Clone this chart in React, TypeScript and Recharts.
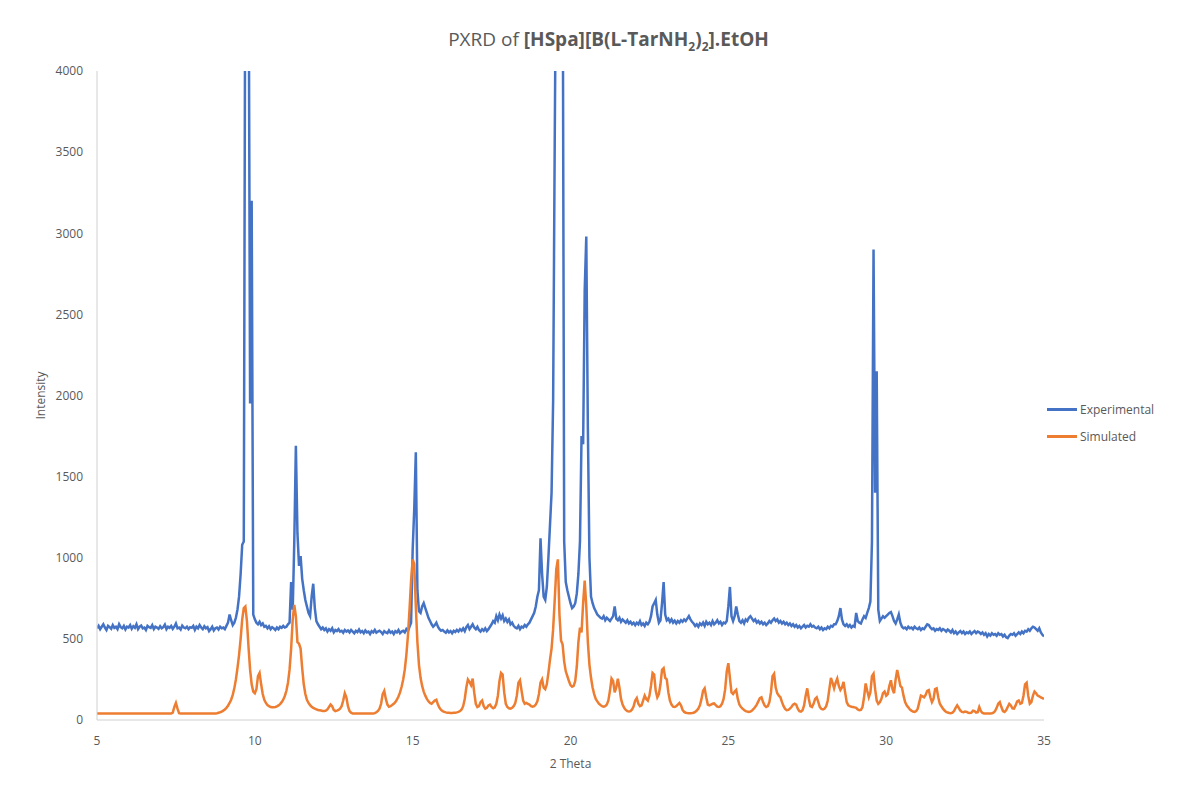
import { Line, LineChart, XAxis, YAxis } from "recharts";

// scan grid of the diffractogram (2θ, degrees)
const SCAN_START = 5;
const SCAN_STEP = 0.05;

// one row per degree, 20 points each (5.00 ... 34.95), then 35.00
const experimental = [
  565, 580, 560, 575, 590, 570, 555, 580, 572, 562, 585, 568, 575, 560, 590, 572, 565, 580, 558, 575,
  570, 585, 562, 578, 568, 590, 560, 575, 582, 565, 570, 555, 580, 572, 568, 585, 560, 575, 570, 562,
  578, 565, 572, 588, 560, 575, 568, 580, 562, 575, 595, 565, 570, 558, 582, 570, 565, 575, 560, 572,
  568, 580, 555, 575, 565, 585, 570, 560, 578, 565, 572, 548, 560, 575, 552, 565, 570, 558, 575, 565,
  570, 560, 580, 600, 650, 615, 585, 600, 630, 680, 760, 900, 1080, 1100, 5000, 5000, 5000, 1950, 3200, 650,
  620, 600, 590, 605, 585, 595, 575, 580, 565, 578, 560, 572, 565, 555, 570, 560, 575, 568, 580, 570,
  575, 590, 600, 850, 680, 1100, 1690, 1150, 950, 1010, 870, 800, 740, 700, 660, 640, 760, 840, 690, 610,
  590, 575, 560, 570, 555, 565, 545, 560, 550, 565, 540, 555, 548, 560, 545, 550, 538, 555, 545, 552,
  540, 555, 545, 535, 550, 542, 558, 540, 548, 535, 552, 540, 545, 530, 548, 540, 555, 538, 545, 550,
  542, 530, 548, 540, 535, 552, 538, 545, 530, 548, 540, 555, 535, 545, 550, 540, 560, 548, 575, 600,
  1050, 1300, 1650, 800, 670, 660, 700, 720, 690, 660, 630, 610, 590, 575, 585, 600, 575, 560, 550, 555,
  545, 538, 552, 540, 548, 535, 550, 542, 555, 545, 560, 550, 565, 548, 572, 585, 560, 575, 590, 570,
  560, 575, 555, 545, 560, 550, 565, 548, 560, 575, 590, 610, 600, 640, 615, 650, 625, 645, 610, 625,
  605, 620, 590, 600, 580, 570, 565, 580, 560, 575, 570, 585, 575, 590, 600, 620, 640, 660, 700, 760,
  800, 1120, 900, 760, 740, 820, 1000, 1200, 1400, 1970, 3550, 5000, 5000, 5000, 5000, 5000, 1100, 850, 800, 760,
  720, 690, 700, 720, 780, 900, 1100, 1750, 1700, 2650, 2980, 1800, 1000, 760, 720, 690, 670, 650, 640, 630,
  625, 640, 615, 630, 620, 610, 625, 640, 700, 625, 615, 630, 605, 620, 610, 600, 615, 595, 605, 590,
  600, 585, 600, 590, 610, 585, 595, 580, 600, 590, 605, 640, 700, 720, 740, 650, 600, 615, 720, 850,
  650, 615, 625, 605, 620, 600, 612, 595, 610, 600, 615, 605, 620, 610, 625, 640, 620, 605, 595, 580,
  590, 575, 595, 585, 600, 580, 605, 590, 600, 585, 610, 590, 600, 615, 595, 605, 585, 600, 595, 610,
  700, 820, 640, 610, 640, 700, 650, 610, 600, 615, 595, 620, 610, 630, 640, 625, 610, 620, 600, 610,
  595, 605, 590, 600, 585, 595, 610, 600, 615, 625, 610, 620, 600, 610, 595, 605, 590, 600, 585, 595,
  580, 590, 575, 585, 570, 580, 565, 575, 585, 570, 580, 575, 590, 575, 580, 570, 565, 575, 560, 570,
  555, 565, 560, 575, 565, 580, 575, 590, 590, 610, 640, 690, 620, 590, 580, 590, 575, 585, 570, 580,
  575, 660, 610, 600, 595, 620, 640, 630, 660, 690, 730, 1100, 2900, 1400, 2150, 680, 610, 625, 640, 630,
  640, 650, 660, 665, 640, 610, 595, 620, 650, 600, 575, 565, 570, 560, 575, 565, 570, 560, 575, 565,
  560, 570, 555, 565, 560, 575, 590, 585, 570, 560, 565, 550, 560, 555, 565, 550, 560, 555, 545, 558,
  550, 540, 555, 535, 545, 530, 540, 548, 535, 545, 530, 540, 535, 545, 530, 540, 548, 535, 545, 540,
  530, 540, 525, 535, 515, 530, 520, 535, 525, 530, 520, 535, 525, 530, 515, 525, 510, 505, 520, 530,
  525, 535, 520, 530, 540, 530, 545, 535, 550, 545, 560, 550, 565, 575, 570, 560, 550, 565, 540, 525,
  515,
];

const simulated = [
  40, 40, 40, 40, 40, 40, 40, 40, 40, 40, 40, 40, 40, 40, 40, 40, 40, 40, 40, 40,
  40, 40, 40, 40, 40, 40, 40, 40, 40, 40, 40, 40, 40, 40, 40, 40, 40, 40, 40, 40,
  40, 40, 40, 40, 40, 40, 40, 40, 45, 80, 105, 70, 42, 40, 40, 40, 40, 40, 40, 40,
  40, 40, 40, 40, 40, 40, 40, 40, 40, 40, 40, 40, 40, 40, 40, 40, 42, 45, 48, 52,
  58, 65, 75, 88, 105, 125, 155, 195, 250, 320, 400, 500, 620, 690, 700, 610, 450, 310, 220, 175,
  165, 190, 270, 290, 220, 160, 125, 105, 92, 85, 80, 78, 78, 80, 84, 90, 98, 110, 125, 148,
  180, 230, 310, 440, 620, 710, 640, 480, 470, 440, 320, 220, 160, 125, 105, 92, 82, 75, 70, 66,
  62, 60, 58, 56, 55, 58, 65, 80, 95, 85, 62, 55, 58, 62, 70, 85, 120, 165, 140, 85,
  55, 45, 40, 40, 40, 40, 40, 40, 40, 40, 40, 40, 40, 40, 40, 40, 42, 48, 56, 70,
  100, 160, 180, 130, 95, 82, 85, 92, 100, 110, 125, 145, 170, 205, 250, 310, 400, 520, 680, 860,
  990, 960, 700, 480, 340, 260, 210, 175, 150, 130, 115, 105, 100, 110, 120, 125, 95, 75, 62, 55,
  50, 47, 45, 44, 43, 43, 44, 45, 47, 50, 55, 65, 85, 130, 200, 250, 235, 215, 255, 170,
  100, 80, 85, 110, 120, 85, 70, 75, 90, 95, 80, 72, 78, 100, 150, 240, 290, 280, 170, 100,
  80, 72, 70, 75, 85, 105, 150, 230, 245, 180, 120, 100, 105, 100, 95, 85, 82, 85, 95, 115,
  160, 230, 250, 200, 190, 220, 290, 370, 440, 560, 740, 930, 990, 650, 490, 465, 360, 300, 270, 240,
  215, 205, 210, 240, 330, 480, 570, 540, 720, 860, 700, 480, 340, 260, 200, 160, 130, 115, 100, 92,
  85, 82, 85, 95, 120, 180, 255, 240, 170, 200, 255, 200, 130, 95, 75, 62, 55, 52, 55, 65,
  85, 120, 135, 100, 85, 90, 120, 150, 130, 120, 150, 210, 290, 280, 180, 140, 160, 220, 310, 320,
  260, 250, 170, 120, 95, 82, 80, 85, 95, 105, 90, 62, 50, 45, 43, 42, 42, 43, 45, 50,
  58, 70, 90, 130, 180, 195, 140, 95, 90, 95, 100, 102, 92, 82, 80, 85, 100, 130, 190, 300,
  350, 260, 170, 160, 175, 185, 130, 95, 80, 70, 62, 55, 52, 50, 52, 58, 68, 80, 95, 115,
  135, 140, 110, 90, 80, 85, 110, 170, 270, 285, 200, 165, 150, 140, 110, 85, 68, 60, 62, 70,
  80, 95, 100, 95, 70, 55, 52, 60, 90, 150, 195, 130, 85, 80, 100, 130, 140, 110, 80, 68,
  65, 70, 85, 120, 190, 260, 230, 195, 230, 255, 210, 185, 200, 235, 170, 110, 90, 85, 82, 80,
  78, 75, 65, 60, 62, 80, 140, 225, 180, 140, 170, 270, 285, 190, 120, 100, 110, 130, 165, 175,
  150, 160, 210, 245, 190, 165, 250, 308, 260, 210, 200, 150, 110, 90, 78, 65, 58, 52, 50, 55,
  70, 110, 150, 145, 140, 155, 180, 185, 140, 110, 130, 190, 195, 140, 100, 85, 70, 58, 50, 46,
  43, 42, 45, 55, 75, 90, 75, 58, 50, 48, 52, 50, 45, 43, 45, 58, 55, 45, 48, 80,
  55, 43, 40, 40, 40, 40, 40, 42, 45, 55, 75, 100, 110, 80, 55, 50, 60, 80, 100, 90,
  72, 70, 90, 115, 120, 100, 105, 150, 220, 230, 150, 100, 110, 150, 175, 165, 150, 145, 140, 135,
  130,
];

const xTicks = [5, 10, 15, 20, 25, 30, 35];
const yTicks = [0, 500, 1000, 1500, 2000, 2500, 3000, 3500, 4000];
const seriesNames = ["Experimental", "Simulated"];

const rows = experimental.map((value, i) => ({
  theta: Math.round((SCAN_START + i * SCAN_STEP) * 100) / 100,
  experimental: value,
  simulated: simulated[i],
}));

const FONT = "'Open Sans', 'Noto Sans', sans-serif";
const TEXT = "#595959";
const AXIS = "#d0d0d0";
const BLUE = "#4472c4";
const ORANGE = "#ed7d31";

export default function App() {
  return (
    <div style={{ position: "absolute", left: 0, top: 0, width: 1197, height: 787, background: "#fff", fontFamily: FONT }}>
      <div
        style={{
          position: "absolute",
          top: 26,
          left: 10,
          width: 1197,
          textAlign: "center",
          fontSize: 19,
          color: TEXT,
        }}
      >
        PXRD of{" "}
        <b>
          [HSpa][B(L-TarNH<sub style={{ fontSize: 12 }}>2</sub>)<sub style={{ fontSize: 12 }}>2</sub>].EtOH
        </b>
      </div>

      <LineChart width={1197} height={787} data={rows} margin={{ top: 71, right: 153, bottom: 37, left: 37 }}>
        <XAxis
          dataKey="theta"
          type="number"
          domain={[5, 35]}
          ticks={xTicks}
          allowDataOverflow
          height={30}
          stroke={AXIS}
          tickLine={false}
          tickMargin={10}
          tick={{ fill: TEXT, fontSize: 12, fontFamily: FONT }}
          label={{ value: "2 Theta", position: "bottom", offset: 9, fill: TEXT, fontSize: 12, fontFamily: FONT }}
        />
        <YAxis
          type="number"
          domain={[0, 4000]}
          ticks={yTicks}
          allowDataOverflow
          width={60}
          stroke={AXIS}
          tickLine={false}
          tickMargin={8}
          tick={{ fill: TEXT, fontSize: 12, fontFamily: FONT }}
          label={{
            value: "Intensity",
            angle: -90,
            position: "insideLeft",
            offset: 4,
            fill: TEXT,
            fontSize: 12,
            fontFamily: FONT,
            style: { textAnchor: "middle" },
          }}
        />
        <Line type="linear" dataKey="experimental" name={seriesNames[0]} stroke={BLUE} strokeWidth={2.5} dot={false} isAnimationActive={false} />
        <Line type="linear" dataKey="simulated" name={seriesNames[1]} stroke={ORANGE} strokeWidth={2.5} dot={false} isAnimationActive={false} />
      </LineChart>

      <div style={{ position: "absolute", left: 1047, top: 396, fontSize: 12, color: TEXT }}>
        {[
          [seriesNames[0], BLUE],
          [seriesNames[1], ORANGE],
        ].map(([name, color]) => (
          <div key={name} style={{ display: "flex", alignItems: "center", height: 27 }}>
            <span style={{ display: "inline-block", width: 30, height: 3, background: color, marginRight: 3 }} />
            {name}
          </div>
        ))}
      </div>
    </div>
  );
}
